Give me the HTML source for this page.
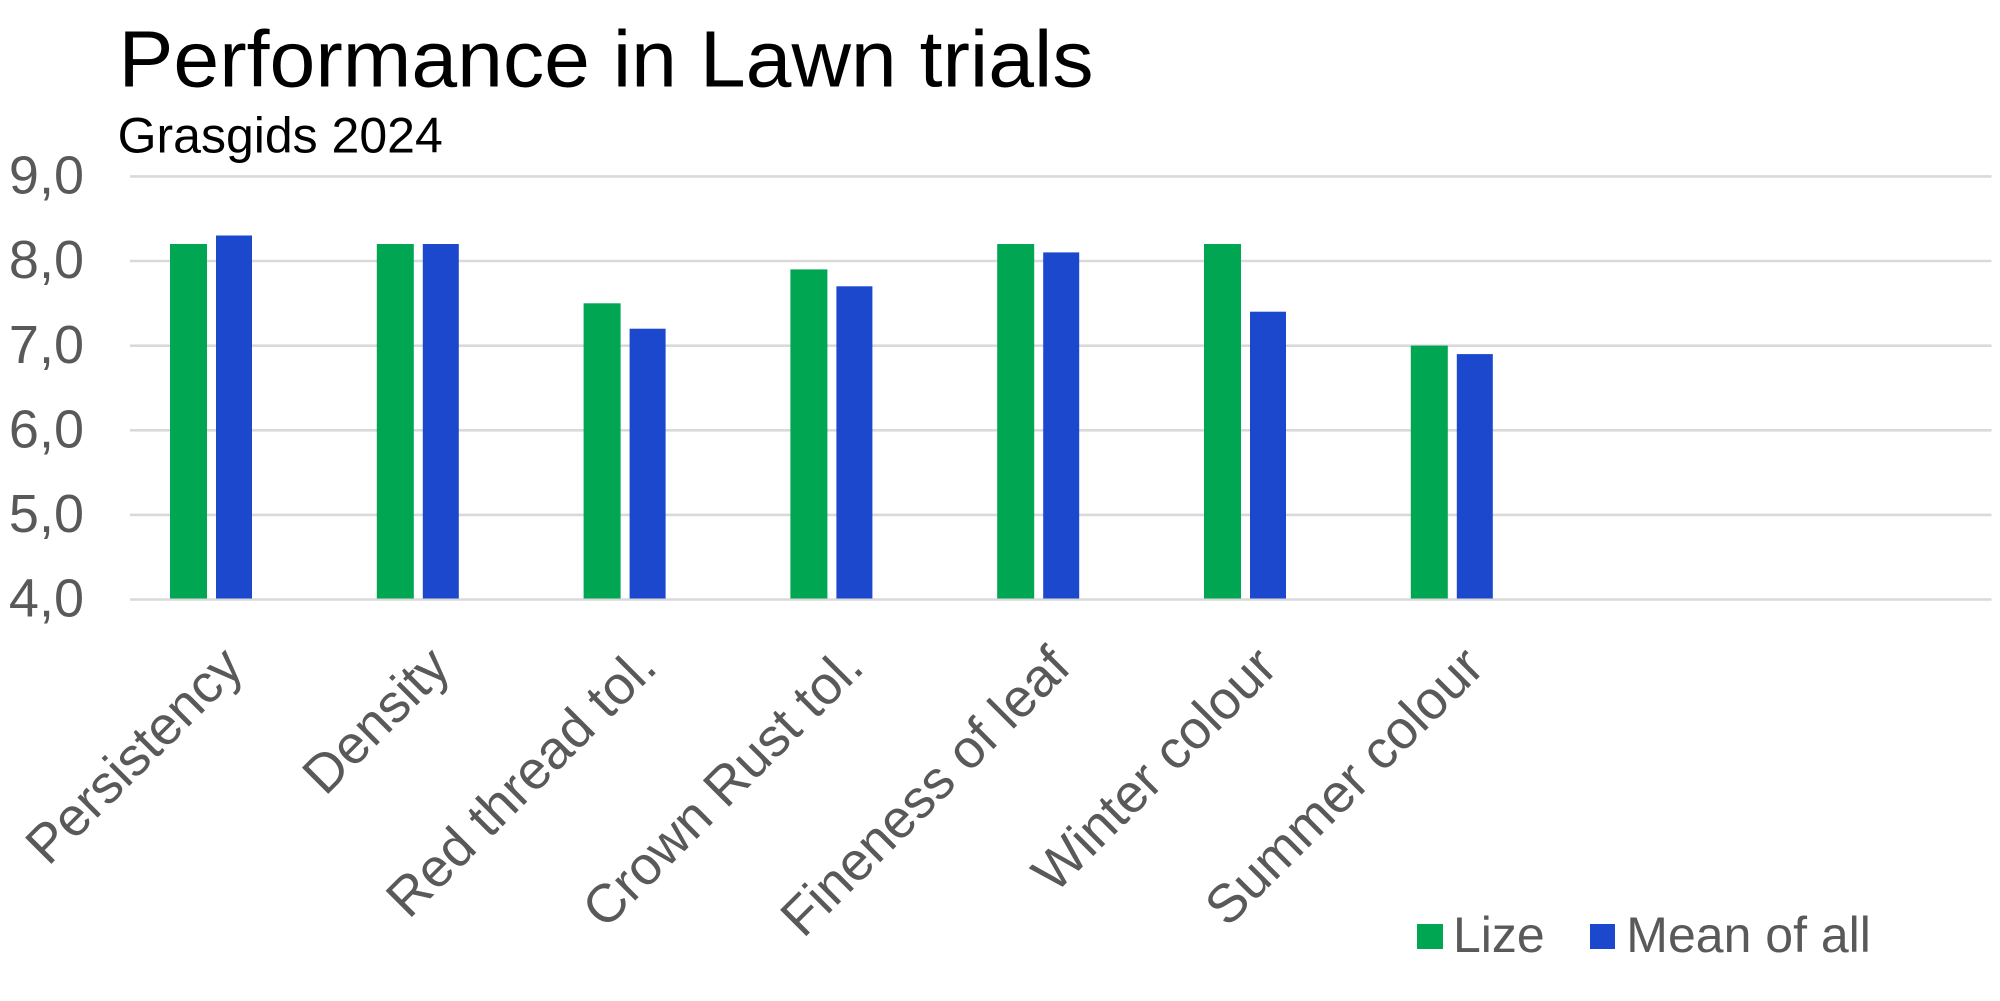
<!DOCTYPE html>
<html>
<head>
<meta charset="utf-8">
<style>
  html, body { margin: 0; padding: 0; background: #ffffff; }
  body { width: 2000px; height: 1001px; overflow: hidden; }
  svg { display: block; }
  text { font-family: "Liberation Sans", Arial, sans-serif; }
</style>
</head>
<body>
<svg width="2000" height="1001" viewBox="0 0 2000 1001" xmlns="http://www.w3.org/2000/svg">
  <rect x="0" y="0" width="2000" height="1001" fill="#ffffff"/>

  <!-- Title -->
  <text x="118.5" y="86.5" font-size="80" fill="#000000" textLength="975" lengthAdjust="spacingAndGlyphs">Performance in Lawn trials</text>
  <text x="117.6" y="152.5" font-size="50" fill="#000000">Grasgids 2024</text>

  <!-- Gridlines -->
  <g stroke="#d9d9d9" stroke-width="2.6">
    <line x1="130" y1="176.4" x2="1991.5" y2="176.4"/>
    <line x1="130" y1="261.0" x2="1991.5" y2="261.0"/>
    <line x1="130" y1="345.7" x2="1991.5" y2="345.7"/>
    <line x1="130" y1="430.3" x2="1991.5" y2="430.3"/>
    <line x1="130" y1="514.9" x2="1991.5" y2="514.9"/>
    <line x1="130" y1="599.5" x2="1991.5" y2="599.5"/>
  </g>

  <!-- Y axis labels -->
  <g font-size="54" fill="#595959" text-anchor="end">
    <text x="84" y="193.6">9,0</text>
    <text x="84" y="278.2">8,0</text>
    <text x="84" y="362.9">7,0</text>
    <text x="84" y="447.5">6,0</text>
    <text x="84" y="532.1">5,0</text>
    <text x="84" y="616.7">4,0</text>
  </g>

  <!-- Bars: y(v) = 599.5 - (v-4)*84.64 ; bottom at 598.5 -->
  <g fill="#00a651">
    <rect x="170"    y="244.0" width="37" height="354.5"/>
    <rect x="376.8"  y="244.0" width="37" height="354.5"/>
    <rect x="583.6"  y="303.3" width="37" height="295.2"/>
    <rect x="790.4"  y="269.4" width="37" height="329.1"/>
    <rect x="997.2"  y="244.0" width="37" height="354.5"/>
    <rect x="1204"   y="244.0" width="37" height="354.5"/>
    <rect x="1410.8" y="345.6" width="37" height="252.9"/>
  </g>
  <g fill="#1b48cc">
    <rect x="216"    y="235.5" width="36" height="363.0"/>
    <rect x="422.8"  y="244.0" width="36" height="354.5"/>
    <rect x="629.6"  y="328.7" width="36" height="269.8"/>
    <rect x="836.4"  y="286.3" width="36" height="312.2"/>
    <rect x="1043.2" y="252.4" width="36" height="346.1"/>
    <rect x="1250"   y="311.7" width="36" height="286.8"/>
    <rect x="1456.8" y="354.1" width="36" height="244.4"/>
  </g>

  <!-- Category labels (rotated -45deg, right-aligned at top) -->
  <g font-size="54" fill="#595959" text-anchor="end">
    <text transform="translate(211,635) rotate(-45)" x="0" y="49">Persistency</text>
    <text transform="translate(417.8,635) rotate(-45)" x="0" y="49">Density</text>
    <text transform="translate(624.6,635) rotate(-45)" x="0" y="49">Red thread tol.</text>
    <text transform="translate(831.4,635) rotate(-45)" x="0" y="49">Crown Rust tol.</text>
    <text transform="translate(1038.2,635) rotate(-45)" x="0" y="49">Fineness of leaf</text>
    <text transform="translate(1245,635) rotate(-45)" x="0" y="49">Winter colour</text>
    <text transform="translate(1451.8,635) rotate(-45)" x="0" y="49">Summer colour</text>
  </g>

  <!-- Legend -->
  <rect x="1417" y="924" width="26" height="25" fill="#00a651"/>
  <text x="1453" y="952" font-size="50" fill="#595959">Lize</text>
  <rect x="1590" y="924" width="25" height="25" fill="#1b48cc"/>
  <text x="1626.3" y="952" font-size="50" fill="#595959">Mean of all</text>
</svg>
</body>
</html>
